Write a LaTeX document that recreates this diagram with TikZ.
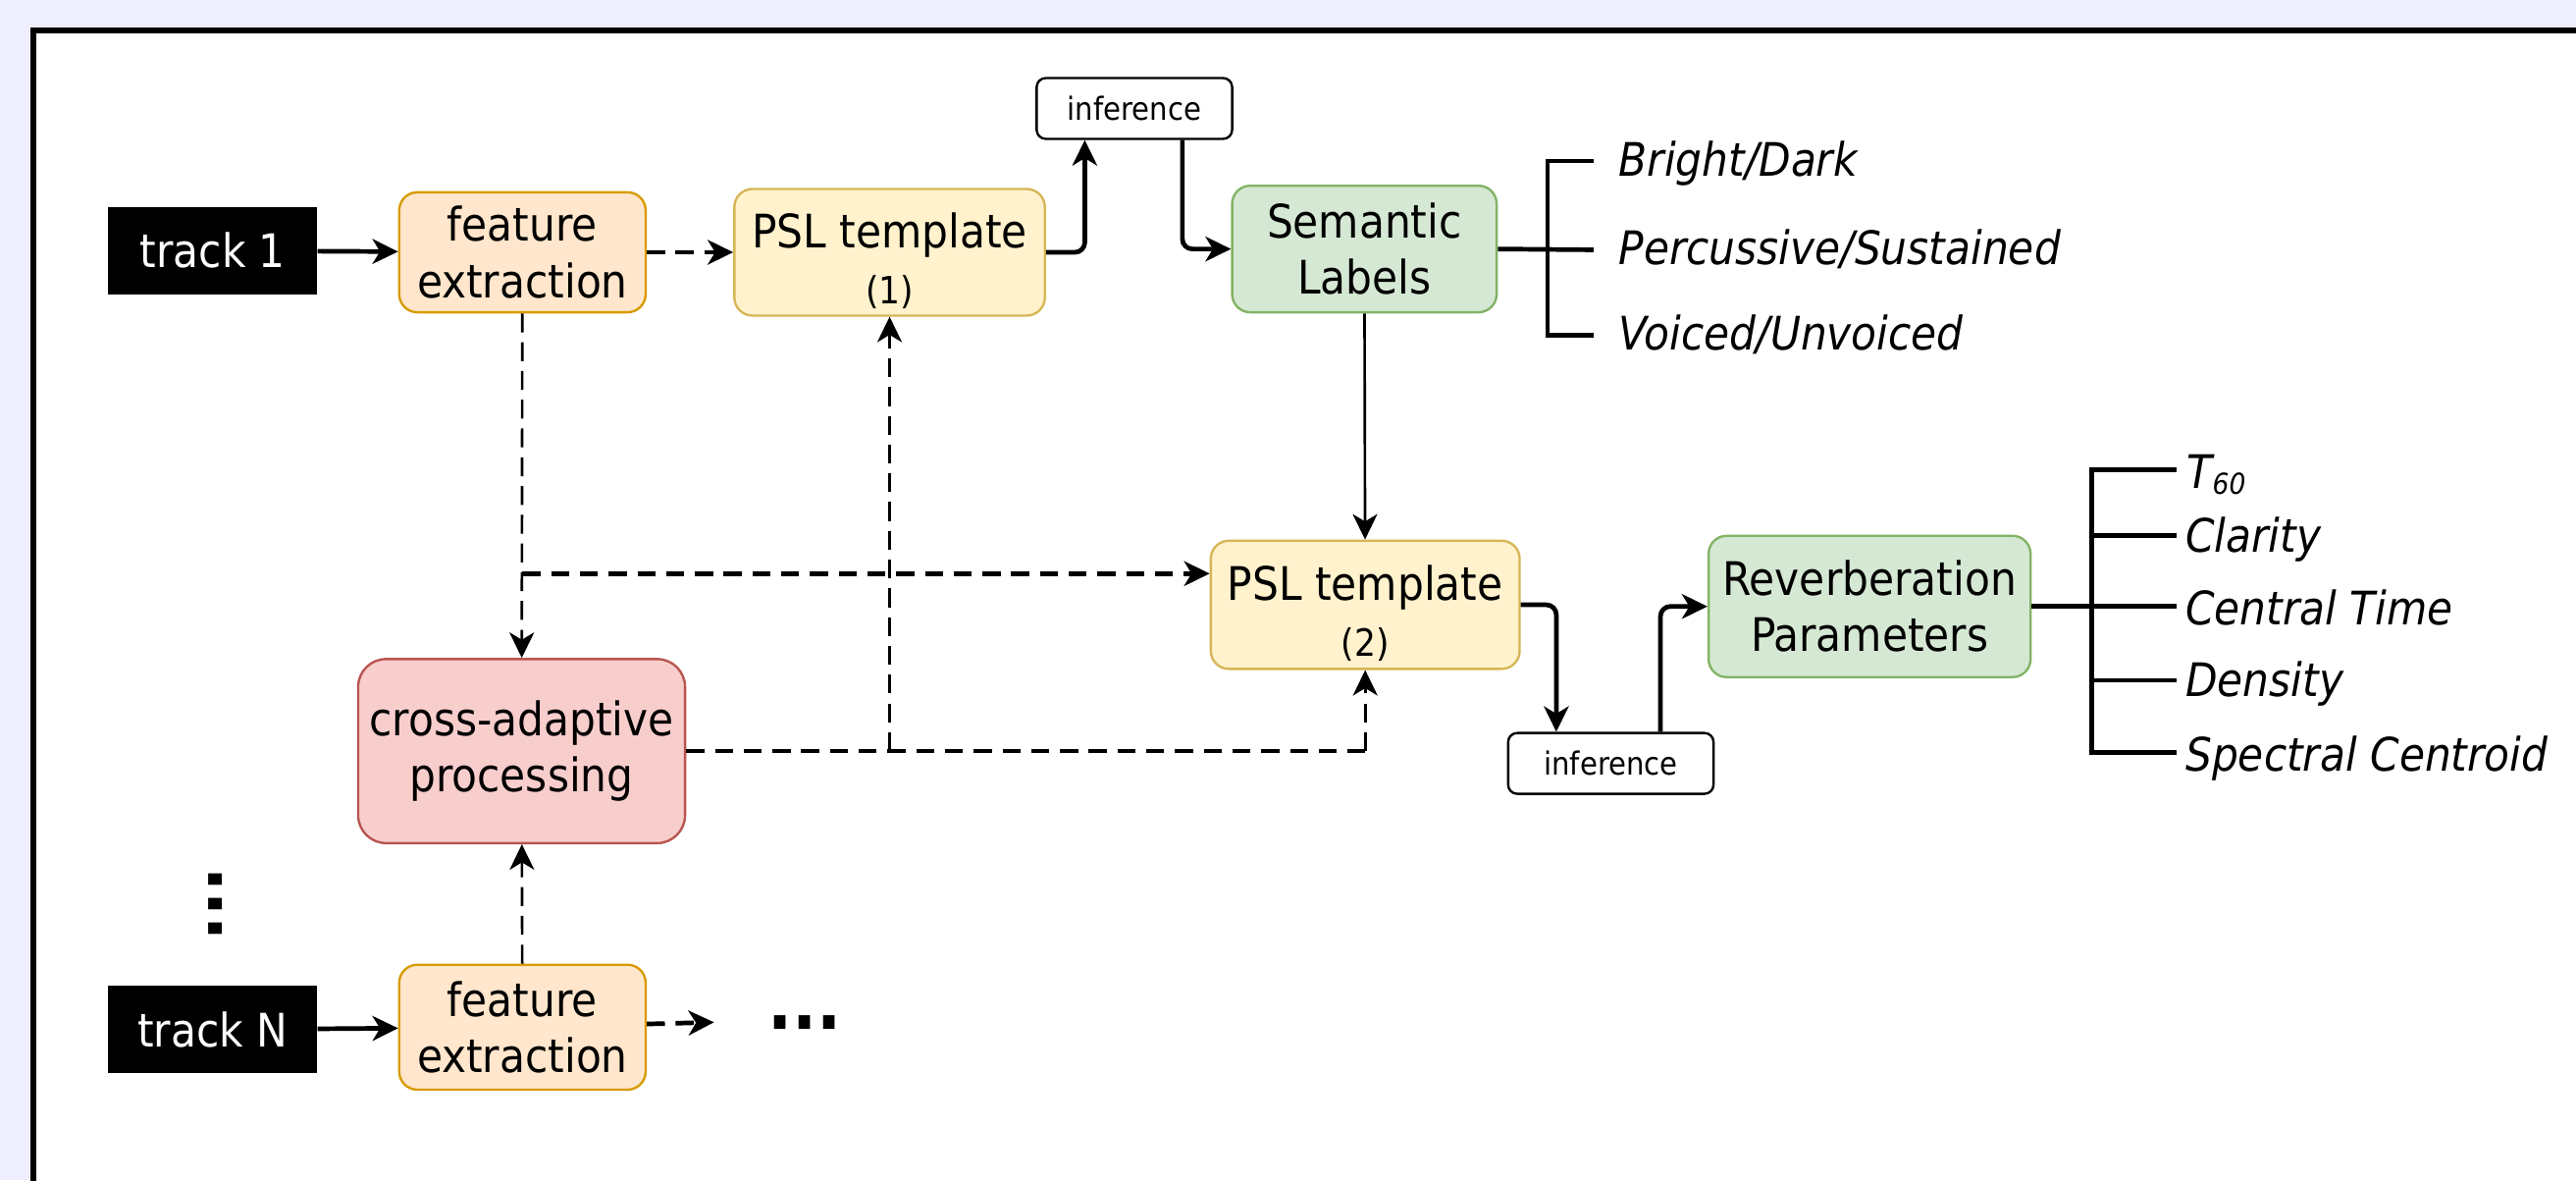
\documentclass[tikz,border=0pt]{standalone}
\usepackage{fontspec}
\setmainfont{DejaVu Sans Condensed}[ItalicFont={DejaVu Sans Condensed Oblique},BoldFont={DejaVu Sans Condensed Bold}]
\usepackage{xcolor}
\usetikzlibrary{arrows.meta}

\definecolor{bgblue}{RGB}{238,238,255}
\definecolor{featfill}{HTML}{FFE6CC}
\definecolor{featdraw}{HTML}{D79B00}
\definecolor{pslfill}{HTML}{FFF2CC}
\definecolor{psldraw}{HTML}{D6B656}
\definecolor{semfill}{HTML}{D5E8D4}
\definecolor{semdraw}{HTML}{82B366}
\definecolor{crossfill}{HTML}{F8CECC}
\definecolor{crossdraw}{HTML}{B85450}

\newcommand{\boxfont}{\fontsize{16}{19.5}\selectfont}
\newcommand{\numfont}{\fontsize{13}{15}\selectfont}

\begin{document}
\begin{tikzpicture}[x=0.2mm, y=-0.2mm, >={Stealth[length=3.1mm,width=3.0mm,inset=0.9mm]},
    box/.style={rounded corners=2.2mm, line width=0.8pt, align=center, inner sep=0pt, font=\boxfont},
    feat/.style={box, fill=featfill, draw=featdraw, minimum width=30mm, minimum height=14.6mm},
    psl/.style={box, fill=pslfill, draw=psldraw, minimum width=37.8mm, minimum height=15.4mm},
    sem/.style={box, fill=semfill, draw=semdraw},
    crossbox/.style={box, fill=crossfill, draw=crossdraw, rounded corners=3.4mm, minimum width=39.8mm, minimum height=22.4mm},
    track/.style={fill=black, text=white, minimum width=25.4mm, minimum height=10.6mm, inner sep=0pt, font=\boxfont},
    infer/.style={draw, fill=white, rounded corners=1.1mm, line width=0.8pt, minimum width=23.8mm, minimum height=7.4mm, inner sep=0pt, font=\fontsize{11}{13}\selectfont},
    item/.style={anchor=base west, inner sep=0pt, font=\boxfont\itshape},
    flow/.style={line width=1.6pt, rounded corners=1.2mm},
    slim/.style={line width=0.9pt},
    dflow/.style={line width=1.6pt, dash pattern=on 2.2mm off 1.3mm},
    dslim/.style={line width=0.9pt, dash pattern=on 2.3mm off 1.2mm},
    bracket/.style={line width=1.6pt}]

    % Page and frame
    \useasboundingbox (0,0) rectangle (1568,718);
    \clip (0,0) rectangle (1568,718);
    \fill[bgblue] (0,0) rectangle (1568,718);
    \filldraw[fill=white, line width=2pt] (20.3,18.5) rectangle (1620,780);

    % Tracks and boxes
    \node[track] (t1) at (129.5,152.5) {track 1};
    \node[feat] (fe1) at (318,153.5) {feature\\extraction};
    \node[psl] (psl1) at (541.5,153.5) {\rule{0pt}{6.3mm}PSL template\\[0pt]{\numfont (1)}};
    \node[infer] (inf1) at (690.5,66) {inference};
    \node[sem, minimum width=32.2mm, minimum height=15.4mm] (sem) at (830.5,151.5) {Semantic\\Labels};
    \node[psl, minimum width=37.6mm, minimum height=15.6mm] (psl2) at (831,368) {\rule{0pt}{6.3mm}PSL template\\[0pt]{\numfont (2)}};
    \node[sem, minimum width=39.2mm, minimum height=17.2mm] (rev) at (1138,369) {Reverberation\\Parameters};
    \node[infer, minimum width=25mm] (inf2) at (980.5,464.5) {inference};
    \node[crossbox] (cross) at (317.5,457) {cross-adaptive\\processing};
    \node[track] (tN) at (129.5,626.5) {track N};
    \node[feat, minimum height=15.2mm] (feN) at (318,625) {feature\\extraction};

    % More tracks
    \node[font=\fontsize{25}{25}\selectfont\bfseries, rotate=90, inner sep=0pt] (vdots) at (131,550) {...};
    \node[font=\fontsize{25}{25}\selectfont\bfseries, inner sep=0pt] (hdots) at (490,622) {...};

    % Connectors
    \draw[flow, ->] (t1) -- (fe1);
    \draw[dflow, ->] (fe1) -- (psl1);
    \draw[flow, ->] (psl1.east) -| ([xshift=6mm]inf1.south west);
    \draw[flow, ->] ([xshift=-6.2mm]inf1.south east) |- (sem.west);
    \draw[slim, ->] (sem) -- (psl2);
    \draw[dslim, ->] (fe1) -- (cross);
    \coordinate (split) at (318,349);
    \draw[dflow, ->] (split) -- (split -| psl2.west);
    \draw[dflow] (cross.east) -- (cross.east -| psl2.south) coordinate (bend);
    \draw[dslim, ->] (bend) -- (psl2.south);
    \draw[dslim, ->] (cross.east -| psl1.south) -- (psl1.south);
    \draw[flow, ->] (psl2.east) -| ([xshift=6mm]inf2.north west);
    \draw[flow, ->] ([xshift=-6.6mm]inf2.north east) |- (rev.west);
    \draw[dslim, ->] (feN) -- (cross);
    \draw[flow, ->] (tN) -- (feN);
    \draw[dflow, ->] (feN) -- ([xshift=-6.5mm]hdots.west);

    % Semantic labels
    \node[item] (bd) at (985,107) {Bright/Dark};
    \node[item] (ps) at (985,161) {Percussive/Sustained};
    \node[item] (vu) at (985,213) {Voiced/Unvoiced};
    \coordinate (sb) at (942,152);
    \draw[bracket] (sem.east) -- (970,152);
    \draw[bracket] (970,98) -| (sb) |- (970,204);

    % Reverberation parameters
    \node[item] (tsixty) at (1331,297) {T{\fontsize{10}{10}\selectfont\raisebox{-0.4ex}{60}}};
    \node[item] (cl) at (1330,336) {Clarity};
    \node[item] (ct) at (1330,380) {Central Time};
    \node[item] (de) at (1330,424) {Density};
    \node[item] (sc) at (1330,469) {Spectral Centroid};
    \coordinate (rb) at (1273,369);
    \draw[bracket] (rev.east) -- (1325,369);
    \draw[bracket] (1325,286) -| (rb) |- (1325,458);
    \draw[bracket] (rb |- 0,326) -- (1325,326);
    \draw[bracket] (rb |- 0,414) -- (1325,414);
\end{tikzpicture}
\end{document}
